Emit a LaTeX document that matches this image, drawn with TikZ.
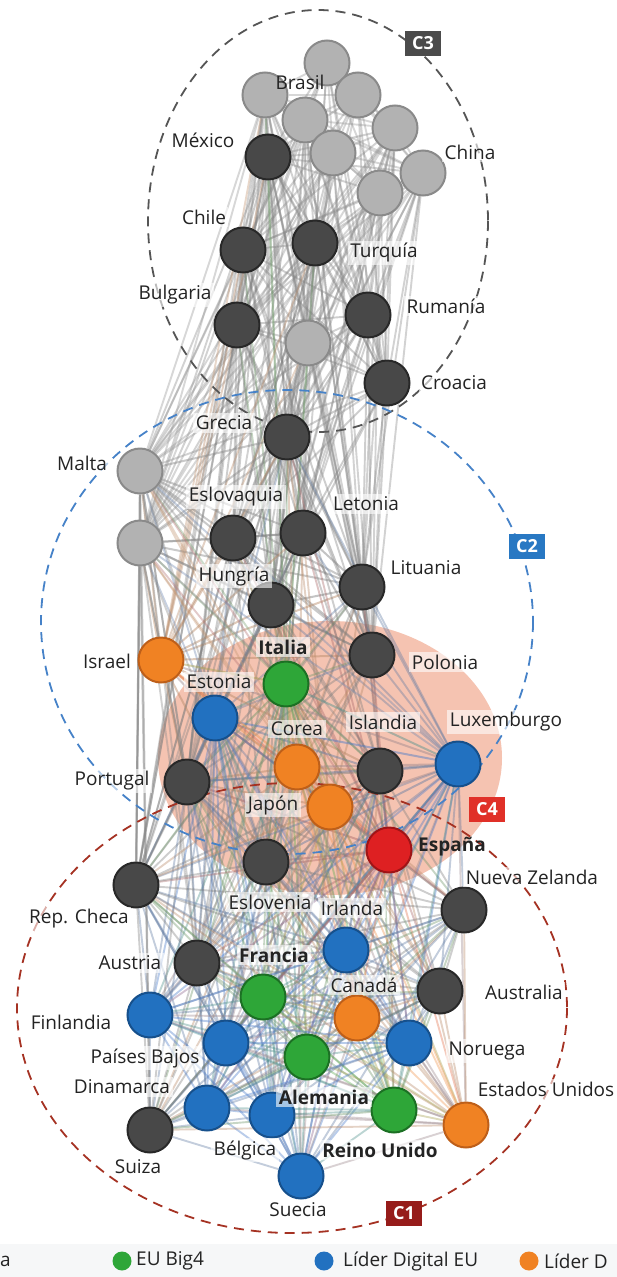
\documentclass[tikz,border=0pt]{standalone}
\usepackage{fontspec}
\setmainfont{Open Sans}
\pgfdeclarelayer{edges}
\pgfdeclarelayer{tint}
\pgfsetlayers{tint,edges,main}
\definecolor{ndark}{RGB}{72,72,72}
\definecolor{ndarkb}{RGB}{40,40,40}
\definecolor{nlight}{RGB}{178,178,178}
\definecolor{nlightb}{RGB}{138,138,138}
\definecolor{nblue}{RGB}{34,113,192}
\definecolor{nblueb}{RGB}{22,80,140}
\definecolor{norange}{RGB}{240,130,35}
\definecolor{norangeb}{RGB}{190,95,25}
\definecolor{ngreen}{RGB}{46,166,56}
\definecolor{ngreenb}{RGB}{28,112,36}
\definecolor{nred}{RGB}{222,32,34}
\definecolor{nredb}{RGB}{160,20,22}
\definecolor{egray}{RGB}{125,125,125}
\definecolor{elight}{RGB}{150,150,150}
\definecolor{eblue}{RGB}{70,120,200}
\definecolor{eorange}{RGB}{240,150,80}
\definecolor{egreen}{RGB}{90,170,80}
\definecolor{ered}{RGB}{210,80,80}
\definecolor{pinkc}{RGB}{242,178,155}
\definecolor{cthree}{RGB}{75,75,75}
\definecolor{ctwo}{RGB}{40,120,195}
\definecolor{cfour}{RGB}{224,48,40}
\definecolor{cone}{RGB}{150,28,26}
\definecolor{cdash}{RGB}{165,50,35}
\definecolor{dthree}{RGB}{85,85,85}
\definecolor{dtwo}{RGB}{70,130,200}
\definecolor{txt}{RGB}{35,35,35}
\definecolor{legbg}{RGB}{246,247,248}
\newcommand\setc[2]{\colorlet{c-#1}{#2}}
\setc{b1}{elight}\setc{b2}{elight}\setc{b3}{elight}\setc{b4}{elight}
\setc{b5}{elight}\setc{b6}{elight}\setc{china}{elight}\setc{b8}{elight}
\setc{mexico}{egray}\setc{chile}{egray}\setc{turquia}{egray}\setc{bulgaria}{egray}
\setc{l9}{elight}\setc{rumania}{egray}\setc{croacia}{egray}
\setc{grecia}{egray}\setc{malta}{elight}\setc{l2}{elight}\setc{eslovaquia}{egray}
\setc{letonia}{egray}\setc{hungria}{egray}\setc{lituania}{egray}\setc{israel}{eorange}
\setc{italia}{egreen}\setc{polonia}{egray}\setc{estonia}{eblue}\setc{corea}{eorange}
\setc{islandia}{egray}\setc{luxemburgo}{eblue}\setc{portugal}{egray}\setc{japon}{eorange}
\setc{espana}{ered}\setc{eslovenia}{egray}
\setc{repcheca}{egray}\setc{nzelanda}{egray}\setc{irlanda}{eblue}\setc{austria}{egray}
\setc{francia}{egreen}\setc{canada}{eorange}\setc{australia}{egray}\setc{finlandia}{eblue}
\setc{pbajos}{eblue}\setc{alemania}{egreen}\setc{noruega}{eblue}\setc{dinamarca}{eblue}
\setc{belgica}{eblue}\setc{reino}{egreen}\setc{eeuu}{eorange}\setc{suiza}{egray}
\setc{suecia}{eblue}
\newcommand\mkpairs[2]{%
  \foreach \a [count=\i] in {#2} {
    \foreach \b [count=\j] in {#2} {
      \ifnum\j>\i \draw[#1, draw=c-\a!50!c-\b] (\a) -- (\b); \fi
    }
  }}
\newcommand\mkcross[3]{%
  \foreach \a in {#2} { \foreach \b in {#3} { \draw[#1, draw=c-\a!50!c-\b] (\a) -- (\b); } }}
\newcommand\lbfont{\fontsize{19}{22}\selectfont}
\begin{document}
\begin{tikzpicture}[x=1pt,y=-1pt,
  nd/.style={circle, minimum size=45pt, inner sep=0pt, line width=2pt},
  dk/.style={nd, fill=ndark, draw=ndarkb},
  lt/.style={nd, fill=nlight, draw=nlightb},
  bl/.style={nd, fill=nblue, draw=nblueb},
  og/.style={nd, fill=norange, draw=norangeb},
  gr/.style={nd, fill=ngreen, draw=ngreenb},
  rd/.style={nd, fill=nred, draw=nredb},
  lbl/.style={font=\lbfont, text=txt, fill=white, fill opacity=0.6, text opacity=1, inner sep=2.5pt},
  blbl/.style={lbl, font=\lbfont\bfseries},
  edg/.style={line width=2pt, opacity=0.45},
  edgl/.style={line width=1.9pt, opacity=0.38},
  clus/.style={line width=1.8pt, dash pattern=on 10pt off 7pt},
  badge/.style={font=\fontsize{18}{18}\selectfont\bfseries, text=white, minimum width=36pt, minimum height=25pt, inner sep=0pt},
  legdot/.style={circle, minimum size=19pt, inner sep=0pt},
  legtxt/.style={font=\fontsize{19}{22}\selectfont, text=txt, anchor=west, inner sep=0pt}
]
\useasboundingbox (0,0) rectangle (617,1277);
\clip (0,0) rectangle (617,1277);
\fill[legbg] (0,1244) rectangle (617,1277);

% ---- cluster outlines (behind nodes)
\draw[clus, dthree] (318,221) ellipse [x radius=170, y radius=211];
\draw[clus, dtwo] (287,622) ellipse [x radius=246, y radius=232];
\draw[clus, cdash] (292,1008) ellipse [x radius=275, y radius=225];

% ---- top cluster nodes
\node[lt] (b1) at (327,63) {};
\node[lt] (b2) at (265,95) {};
\node[lt] (b3) at (358,95) {};
\node[lt] (b5) at (395,128) {};
\node[lt] (b4) at (305,120) {};
\node[lt] (b6) at (333,153) {};
\node[dk] (mexico) at (268,157) {};
\node[lt] (b8) at (380,193) {};
\node[lt] (china) at (423,173) {};
\node[dk] (chile) at (243,250) {};
\node[dk] (turquia) at (315,243) {};
\node[dk] (bulgaria) at (237,325) {};
\node[lt] (l9) at (308,343) {};
\node[dk] (rumania) at (368,315) {};
\node[dk] (croacia) at (387,383) {};
% ---- middle nodes
\node[dk] (grecia) at (287,437) {};
\node[lt] (malta) at (140,471) {};
\node[lt] (l2) at (140,543) {};
\node[dk] (eslovaquia) at (233,538) {};
\node[dk] (letonia) at (303,533) {};
\node[dk] (hungria) at (271,605) {};
\node[dk] (lituania) at (362,587) {};
\node[og] (israel) at (161,660) {};
\node[gr] (italia) at (286,684) {};
\node[dk] (polonia) at (372,655) {};
\node[bl] (estonia) at (215,718) {};
\node[og] (corea) at (297,767) {};
\node[dk] (islandia) at (380,771) {};
\node[bl] (luxemburgo) at (458,764) {};
\node[dk] (portugal) at (187,782) {};
\node[og] (japon) at (330,807) {};
\node[rd] (espana) at (389,850) {};
\node[dk] (eslovenia) at (266,862) {};
% ---- bottom nodes
\node[dk] (repcheca) at (136,885) {};
\node[dk] (nzelanda) at (464,910) {};
\node[bl] (irlanda) at (346,950) {};
\node[dk] (austria) at (197,963) {};
\node[gr] (francia) at (263,997) {};
\node[og] (canada) at (357,1018) {};
\node[dk] (australia) at (440,991) {};
\node[bl] (finlandia) at (150,1015) {};
\node[bl] (pbajos) at (226,1043) {};
\node[gr] (alemania) at (307,1057) {};
\node[bl] (noruega) at (409,1043) {};
\node[bl] (dinamarca) at (207,1108) {};
\node[bl] (belgica) at (272,1115) {};
\node[gr] (reino) at (394,1110) {};
\node[og] (eeuu) at (466,1125) {};
\node[dk] (suiza) at (150,1130) {};
\node[bl] (suecia) at (301,1176) {};

% ---- labels
\node[lbl, fill opacity=0] (t-brasil) at (300,82) {Brasil};
\node[lbl] (t-mexico) at (203,140) {México};
\node[lbl] (t-china) at (470,152) {China};
\node[lbl] (t-chile) at (204,217) {Chile};
\node[lbl] (t-turquia) at (384,253) {Turquía};
\node[lbl] (t-bulgaria) at (175,295) {Bulgaria};
\node[lbl] (t-rumania) at (446,306) {Rumanía};
\node[lbl] (t-croacia) at (454,383) {Croacia};
\node[lbl] (t-grecia) at (224,423) {Grecia};
\node[lbl] (t-malta) at (82,463) {Malta};
\node[lbl] (t-eslovaquia) at (236,497) {Eslovaquia};
\node[lbl] (t-letonia) at (366,504) {Letonia};
\node[lbl] (t-hungria) at (234,576) {Hungría};
\node[lbl] (t-lituania) at (426,568) {Lituania};
\node[lbl] (t-israel) at (107,661) {Israel};
\node[blbl] (t-italia) at (283,647) {Italia};
\node[lbl] (t-polonia) at (445,662) {Polonia};
\node[lbl] (t-estonia) at (219,682) {Estonia};
\node[lbl] (t-corea) at (297,729) {Corea};
\node[lbl] (t-islandia) at (383,722) {Islandia};
\node[lbl] (t-luxemburgo) at (506,722) {Luxemburgo};
\node[lbl] (t-portugal) at (112,781) {Portugal};
\node[lbl] (t-japon) at (273,805) {Japón};
\node[blbl, fill opacity=0] (t-espana) at (452,847) {España};
\node[lbl] (t-eslovenia) at (270,902) {Eslovenia};
\node[lbl] (t-irlanda) at (352,908) {Irlanda};
\node[lbl] (t-repcheca) at (79,919) {Rep. Checa};
\node[lbl] (t-nzelanda) at (532,877) {Nueva Zelanda};
\node[lbl] (t-austria) at (130,963) {Austria};
\node[blbl] (t-francia) at (274,955) {Francia};
\node[lbl] (t-canada) at (364,985) {Canadá};
\node[lbl] (t-australia) at (524,992) {Australia};
\node[lbl] (t-finlandia) at (71,1022) {Finlandia};
\node[lbl] (t-pbajos) at (145,1058) {Países Bajos};
\node[blbl] (t-alemania) at (324,1097) {Alemania};
\node[lbl] (t-noruega) at (487,1051) {Noruega};
\node[lbl] (t-dinamarca) at (122,1087) {Dinamarca};
\node[lbl] (t-belgica) at (245,1150) {Bélgica};
\node[blbl] (t-reino) at (380,1150) {Reino Unido};
\node[lbl] (t-eeuu) at (546,1089) {Estados Unidos};
\node[lbl] (t-suiza) at (138,1167) {Suiza};
\node[lbl] (t-suecia) at (298,1210) {Suecia};

% ---- cluster badges
\node[badge, fill=cthree] (k3) at (423,43) {C3};
\node[badge, fill=ctwo] (k2) at (527,546) {C2};
\node[badge, fill=cfour] (k4) at (487,809) {C4};
\node[badge, fill=cone] (k1) at (404,1213) {C1};

% ---- legend
\node[legtxt] (g0) at (0,1261) {a};
\node[legdot, fill=ngreen] (g1) at (122,1261) {};
\node[legtxt] (g1t) at (136,1261) {EU Big4};
\node[legdot, fill=nblue] (g2) at (324,1261) {};
\node[legtxt] (g2t) at (343,1261) {Líder Digital EU};
\node[legdot, fill=norange] (g3) at (529,1261) {};
\node[legtxt] (g3t) at (544,1261) {Líder D};

% ---- edges
\begin{pgfonlayer}{edges}
\mkpairs{edgl}{b1,b2,b3,b4,b5,b6,china,b8,mexico,chile,turquia,bulgaria,l9,rumania,croacia}
\mkcross{edgl}{mexico,chile,turquia,bulgaria,l9,rumania,croacia,b4,b6,b8,china,b2,b5}{grecia,eslovaquia,letonia,hungria,lituania,malta,l2,polonia}
\mkcross{edgl}{bulgaria,chile,mexico,b2,turquia,l9}{repcheca,portugal,israel,italia}
\mkpairs{edg}{grecia,malta,l2,eslovaquia,letonia,hungria,lituania,polonia,israel}
\mkcross{edgl}{grecia,eslovaquia,letonia,hungria,lituania,polonia,malta,l2}{italia,estonia,corea,islandia,luxemburgo,portugal,japon,espana,eslovenia,repcheca,austria}
\mkpairs{edg}{italia,estonia,corea,islandia,luxemburgo,portugal,japon,espana,eslovenia,israel}
\mkcross{edgl}{italia,estonia,corea,islandia,luxemburgo,portugal,japon,espana,eslovenia}{repcheca,nzelanda,irlanda,austria,francia,canada,australia,finlandia,pbajos,alemania,noruega,dinamarca,belgica,reino,eeuu,suiza,suecia}
\mkpairs{edgl}{repcheca,nzelanda,irlanda,austria,francia,canada,australia,finlandia,pbajos,alemania,noruega,dinamarca,belgica,reino,eeuu,suiza,suecia}
\mkcross{edg}{malta,l2}{repcheca,suiza,portugal}
\end{pgfonlayer}

% ---- C4 tint
\begin{pgfonlayer}{tint}
\fill[pinkc, opacity=0.78] (330,758) ellipse [x radius=172, y radius=137];
\end{pgfonlayer}
\end{tikzpicture}
\end{document}
